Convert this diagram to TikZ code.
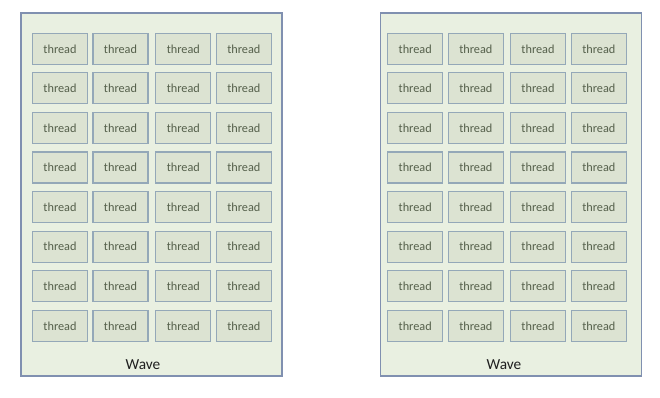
\documentclass[tikz,border=0pt]{standalone}
\usepackage{fontspec}
\setmainfont{Carlito}
\usetikzlibrary{positioning}
\definecolor{wavefill}{HTML}{E9F0E1}
\definecolor{waveline}{HTML}{8090B0}
\definecolor{thfill}{HTML}{DCE3D2}
\definecolor{thline}{HTML}{94A8B8}
\definecolor{thtext}{HTML}{55604B}
\begin{document}
\begin{tikzpicture}[x=0.75pt,y=-0.75pt,
  wavebox/.style={draw=waveline,fill=wavefill,line width=0.9pt,minimum width=195.75pt,minimum height=272.25pt,inner sep=0pt},
  thread/.style={draw=thline,fill=thfill,line width=0.8pt,minimum width=41.25pt,minimum height=23.25pt,inner sep=0pt,text=thtext,font=\fontsize{9.2}{11}\selectfont},
  wavelabel/.style={font=\fontsize{11.5}{13}\selectfont,text=black!88,inner sep=1pt}]
\useasboundingbox (0,0) rectangle (660,398);
% left wave
\node[wavebox] (waveL) at (151.5,194.5) {};
\foreach \c/\x in {1/60,2/120.5,3/183.3,4/243.8}
  \foreach \r in {1,...,8}
    \node[thread] (L\r\c) at (\x,{48.8+(\r-1)*39.57}) {thread};
\node[wavelabel] (wlabL) at (143,365) {Wave};
% right wave
\node[wavebox] (waveR) at (510.85,194.5) {};
\foreach \c/\x in {1/415.2,2/475.8,3/538,4/598.8}
  \foreach \r in {1,...,8}
    \node[thread] (R\r\c) at (\x,{48.8+(\r-1)*39.57}) {thread};
\node[wavelabel] (wlabR) at (504,365) {Wave};
\end{tikzpicture}
\end{document}
